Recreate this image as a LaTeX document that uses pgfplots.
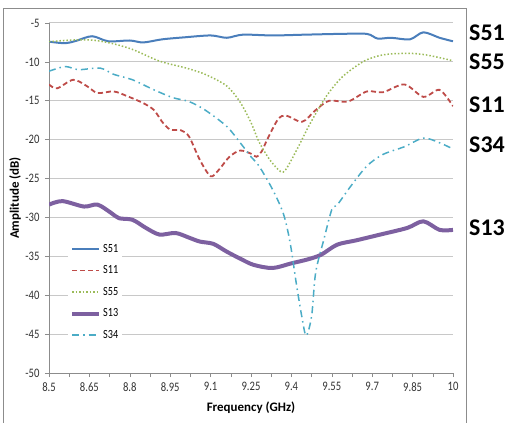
\documentclass[border=0pt]{standalone}
\usepackage{fontspec}
\setmainfont{Carlito}
\newfontfamily\narrowfont{Carlito}[FakeStretch=0.82]
\usepackage{pgfplots}
\pgfplotsset{compat=1.18}
\definecolor{c51}{HTML}{4A7EBB}
\definecolor{c11}{HTML}{BE4B48}
\definecolor{c55}{HTML}{9BBB59}
\definecolor{c13}{HTML}{7D60A0}
\definecolor{c34}{HTML}{4BACC6}
\definecolor{gridc}{HTML}{C8C8C8}
\definecolor{axc}{HTML}{8C8C8C}
\begin{document}
\begin{tikzpicture}
\path[use as bounding box] (-49bp,-50bp) rectangle (456bp,373bp);
\draw[axc,line width=0.8bp] (-46bp,-50bp) -- (-46bp,365bp) -- (417bp,365bp) -- (417bp,-50bp);
\begin{axis}[
  at={(0,0)}, anchor=south west,
  scale only axis, width=404bp, height=350bp,
  xmin=8.5, xmax=10, ymin=-50, ymax=-5,
  xtick={8.5,8.65,8.8,8.95,9.1,9.25,9.4,9.55,9.7,9.85,10},
  xticklabels={8.5,8.65,8.8,8.95,9.1,9.25,9.4,9.55,9.7,9.85,10},
  minor xtick={8.575,8.725,8.875,9.025,9.175,9.325,9.475,9.625,9.775,9.925},
  ytick={-50,-45,-40,-35,-30,-25,-20,-15,-10,-5},
  yticklabels={-50,-45,-40,-35,-30,-25,-20,-15,-10,-5},
  hide obscured x ticks=false, hide obscured y ticks=false,
  tick align=outside,
  major tick length=4bp, minor tick length=4bp,
  tick style={axc, line width=0.6bp},
  xtick pos=bottom, ytick pos=left,
  ymajorgrids, grid style={gridc, line width=1bp},
  axis x line*=bottom, axis y line*=left,
  axis line style={axc, line width=0.8bp, -},
  tick label style={font=\narrowfont\fontsize{13}{13}\selectfont, text=black!80},
  xticklabel style={yshift=-2bp},
  yticklabel style={xshift=-2bp},
  xlabel={\textbf{Frequency (GHz)}},
  ylabel={\textbf{Amplitude (dB)}},
  label style={font=\fontsize{13}{13}\selectfont},
  xlabel style={at={(axis description cs:0.5,-0.1)}, anchor=center},
  ylabel style={at={(axis description cs:-0.084,0.5)}, anchor=center},
  legend style={at={(axis description cs:0.047,0.38)}, anchor=north west,
    fill=white, draw=none, font=\narrowfont\fontsize{12.5}{12.5}\selectfont,
    row sep=8bp, inner xsep=2bp, inner ysep=2bp},
  legend cell align=left,
  legend image code/.code={\draw[#1] (0bp,0bp) -- (27bp,0bp);},
  every axis plot/.append style={smooth, tension=0.5},
]
\addplot[c51, line width=2bp] coordinates {
(8.50,-7.4)(8.56,-7.6)(8.60,-7.3)(8.66,-6.7)(8.72,-7.35)(8.80,-7.25)(8.85,-7.5)(8.92,-7.1)(9.00,-6.85)(9.10,-6.6)(9.16,-6.9)(9.22,-6.5)(9.33,-6.6)(9.45,-6.5)(9.58,-6.4)(9.68,-6.4)(9.72,-7.0)(9.77,-6.9)(9.84,-7.1)(9.89,-6.2)(9.95,-6.9)(10.0,-7.35)
};
\addlegendentry{S51}
\addplot[c11, line width=1.8bp, dash pattern=on 5bp off 3bp] coordinates {
(8.50,-12.9)(8.53,-13.4)(8.59,-12.3)(8.64,-13.1)(8.68,-14.0)(8.74,-13.8)(8.79,-14.4)(8.85,-15.3)(8.89,-16.2)(8.92,-17.7)(8.95,-18.7)(8.99,-18.8)(9.02,-19.6)(9.06,-22.6)(9.10,-24.7)(9.13,-23.9)(9.17,-22.2)(9.21,-21.4)(9.25,-21.8)(9.27,-22.2)(9.29,-21.5)(9.31,-20.0)(9.35,-17.4)(9.38,-16.9)(9.44,-17.7)(9.49,-16.2)(9.54,-15.0)(9.61,-15.1)(9.68,-13.8)(9.74,-13.9)(9.82,-12.9)(9.89,-14.5)(9.95,-13.6)(10.0,-15.7)
};
\addlegendentry{S11}
\addplot[c55, line width=1.5bp, dash pattern=on 1.5bp off 2bp] coordinates {
(8.50,-7.4)(8.58,-7.2)(8.66,-7.2)(8.73,-7.6)(8.81,-8.4)(8.91,-9.9)(9.01,-10.8)(9.08,-11.6)(9.16,-13.1)(9.21,-15.2)(9.25,-17.8)(9.28,-20.3)(9.32,-22.6)(9.36,-24.1)(9.38,-23.8)(9.42,-21.3)(9.47,-17.9)(9.53,-14.4)(9.59,-11.9)(9.67,-9.9)(9.74,-9.1)(9.83,-8.9)(9.90,-9.1)(10.0,-9.85)
};
\addlegendentry{S55}
\addplot[c13, line width=4bp] coordinates {
(8.50,-28.35)(8.55,-27.9)(8.63,-28.6)(8.68,-28.35)(8.73,-29.4)(8.76,-30.1)(8.81,-30.3)(8.86,-31.35)(8.91,-32.2)(8.97,-32.0)(9.02,-32.6)(9.06,-33.1)(9.11,-33.4)(9.16,-34.4)(9.21,-35.3)(9.26,-36.1)(9.33,-36.5)(9.40,-35.9)(9.46,-35.4)(9.51,-34.8)(9.57,-33.5)(9.64,-32.95)(9.73,-32.2)(9.83,-31.35)(9.89,-30.5)(9.95,-31.6)(10.0,-31.6)
};
\addlegendentry{S13}
\addplot[c34, line width=1.5bp, dash pattern=on 7bp off 4bp on 1.5bp off 4bp] coordinates {
(8.50,-11.2)(8.56,-10.6)(8.61,-11.0)(8.69,-10.8)(8.74,-11.6)(8.81,-12.3)(8.89,-13.6)(8.96,-14.6)(9.02,-15.1)(9.08,-16.2)(9.16,-18.3)(9.21,-20.4)(9.25,-22.2)(9.28,-23.4)(9.33,-26.4)(9.37,-29.5)(9.395,-33.2)(9.42,-38.9)(9.44,-43.0)(9.455,-45.2)(9.475,-42.7)(9.49,-37.1)(9.52,-32.9)(9.55,-29.0)(9.57,-28.4)(9.62,-26.0)(9.68,-23.4)(9.74,-21.9)(9.82,-20.9)(9.89,-19.8)(9.95,-20.4)(10.0,-21.2)
};
\addlegendentry{S34}
\end{axis}
\begin{scope}[every node/.style={anchor=west, inner sep=0pt, font=\bfseries\fontsize{24}{24}\selectfont}]
\node at (420bp,340bp) {S51};
\node at (420bp,311bp) {S55};
\node at (420bp,268bp) {S11};
\node at (420bp,228bp) {S34};
\node at (420bp,145bp) {S13};
\end{scope}
\end{tikzpicture}
\end{document}
